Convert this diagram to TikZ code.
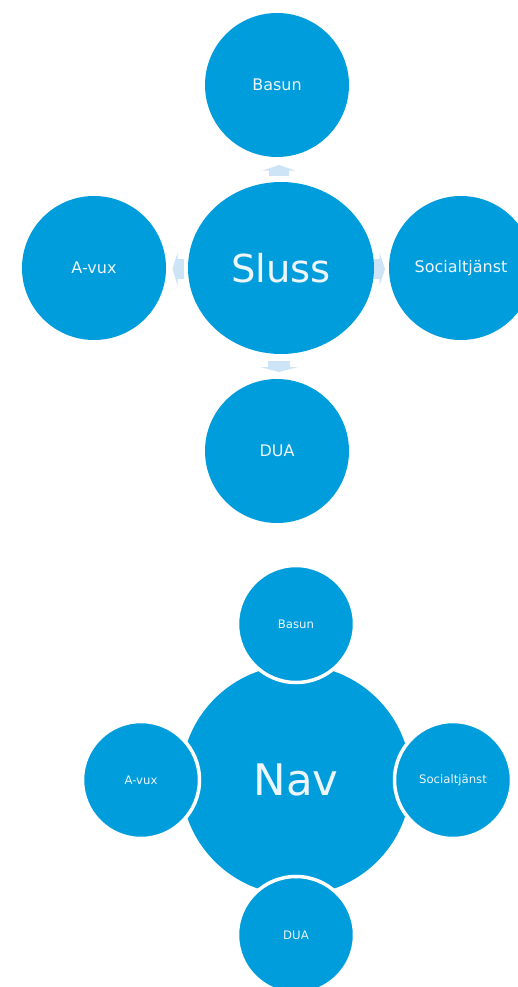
\documentclass[tikz,border=0pt]{standalone}
\usepackage{fontspec}
\setmainfont{DejaVu Sans}
\usetikzlibrary{shapes.geometric}
\definecolor{cblue}{RGB}{0,157,220}
\definecolor{carrow}{RGB}{205,228,246}
\definecolor{ctext}{RGB}{236,246,252}
\begin{document}
\begin{tikzpicture}[x=1pt,y=-1pt,
  bigc/.style={circle,fill=cblue,inner sep=0pt,minimum size=144pt,text=ctext,font=\fontsize{16}{18}\selectfont},
  hubc/.style={ellipse,fill=cblue,inner sep=0pt,minimum width=186pt,minimum height=172pt,text=ctext,font=\fontsize{38.5}{42}\selectfont},
  navc/.style={circle,fill=cblue,inner sep=0pt,minimum size=230pt,text=ctext,font=\fontsize{43.5}{48}\selectfont},
  smallc/.style={circle,fill=cblue,draw=white,line width=3.5pt,inner sep=0pt,minimum size=117pt,text=ctext,font=\fontsize{11.7}{13}\selectfont},
  blockarrow/.style={fill=carrow}
]
\useasboundingbox (0,0) rectangle (517,987);
% top diagram arrows
\fill[blockarrow] (279,165) -- (296,170.7) -- (289,170.7) -- (289,176) -- (269,176) -- (269,170.7) -- (262,170.7) -- cycle;
\fill[blockarrow] (279,372) -- (298,367) -- (290,367) -- (290,361) -- (268,361) -- (268,367) -- (260,367) -- cycle;
\fill[blockarrow] (172.5,269) -- (177.5,252.5) -- (177.5,259) -- (184,259) -- (184,279) -- (177.5,279) -- (177.5,285.5) -- cycle;
\fill[blockarrow] (385,269) -- (379.5,252.5) -- (379.5,259) -- (373,259) -- (373,279) -- (379.5,279) -- (379.5,285.5) -- cycle;
% top diagram circles
\node[hubc] (sluss) at (281,268) {Sluss};
\node[bigc] (basun1) at (277,85) {Basun};
\node[bigc] (avux1) at (94,268) {A-vux};
\node[bigc] (soc1) at (461,268) {Socialtjänst};
\node[bigc] (dua1) at (277,451) {DUA};
% bottom diagram
\node[navc] (nav) at (296,780) {Nav};
\node[smallc] (basun2) at (296,624) {Basun};
\node[smallc] (avux2) at (141,780) {A-vux};
\node[smallc] (soc2) at (453,780) {Socialtjänst};
\node[smallc] (dua2) at (296,935) {DUA};
\end{tikzpicture}
\end{document}
